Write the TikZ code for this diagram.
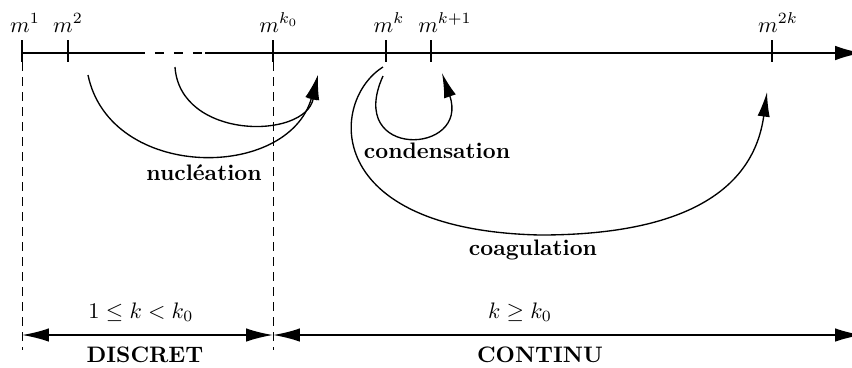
\documentclass[tikz,border=0pt]{standalone}
\usetikzlibrary{arrows.meta}
\begin{document}
\begin{tikzpicture}[x=0.4464pt,y=-0.4464pt,
  axis/.style={line width=0.8pt},
  tickmark/.style={line width=0.7pt},
  guide/.style={line width=0.4pt, dash pattern=on 4pt off 2.7pt},
  gapline/.style={line width=0.8pt, dash pattern=on 4pt off 4.46pt, dash phase=4pt},
  flow/.style={line width=0.6pt, -{Latex[length=11pt,width=5.5pt]}},
  span/.style={line width=0.8pt, {Latex[length=12pt,width=6pt]}-{Latex[length=12pt,width=6pt]}},
  lbl/.style={font=\bfseries, anchor=base, inner sep=0pt},
  mlbl/.style={anchor=base, inner sep=0pt}]
\useasboundingbox (0,0) rectangle (852,367);
\clip (0,0) rectangle (852,367);

% axis points
\coordinate (m1) at (22,53);
\coordinate (m2) at (68,53);
\coordinate (mk0) at (273,53);
\coordinate (mk) at (386,53);
\coordinate (mk1) at (431,53);
\coordinate (m2k) at (772,53);
\coordinate (d1) at (145,53);
\coordinate (d2) at (205,53);
\coordinate (axend) at (862,53);

% axis
\draw[axis] (m1) -- (d1);
\draw[gapline] (d1) -- (d2);
\draw[axis,-{Latex[length=12pt,width=6.5pt]}] (d2) -- (axend);

% ticks
\foreach \p in {m1,m2,mk0,mk,mk1,m2k}
  \draw[tickmark] (\p) ++(0,-13) -- ++(0,22);

% tick labels
\node[mlbl] (l1) at (25,32) {$m^1$};
\node[mlbl] (l2) at (68,32) {$m^2$};
\node[mlbl] (lk0) at (279,32) {$m^{k_0}$};
\node[mlbl] (lk) at (389,32) {$m^k$};
\node[mlbl] (lk1) at (445,32) {$m^{k+1}$};
\node[mlbl] (l2k) at (778,32) {$m^{2k}$};

% vertical guides
\coordinate (g1top) at (22,62);
\coordinate (g1bot) at (22,350);
\coordinate (g2top) at (273,62);
\coordinate (g2bot) at (273,350);
\draw[guide] (g1top) -- (g1bot);
\draw[guide] (g2top) -- (g2bot);

% nucleation
\coordinate (n1) at (88,75);
\coordinate (n2) at (175,67);
\coordinate (ntip) at (318,75);
\draw[flow] (n1) .. controls (110,181) and (288,181) .. (ntip);
\draw[flow] (n2) .. controls (180,140) and (305,140) .. (ntip);
\node[lbl] (nuc) at (204,180) {nucl\'eation};

% condensation
\coordinate (c1) at (383,76);
\coordinate (ctip) at (442,73);
\draw[flow] (c1) .. controls (345,160) and (470,155) .. (ctip);
\node[lbl] (cond) at (437,158) {condensation};

% coagulation
\coordinate (k1) at (383,67);
\coordinate (kbot) at (540,235);
\coordinate (ktip) at (767,92);
\draw[flow] (k1) .. controls (330,100) and (320,230) .. (kbot)
  .. controls (700,235) and (755,180) .. (ktip);
\node[lbl] (coag) at (533,255) {coagulation};

% bottom spans
\coordinate (s1) at (22,335);
\coordinate (s2) at (273,335);
\coordinate (s3) at (862,335);
\draw[span] (s1) -- (s2);
\draw[span] (s2) -- (s3);
\node[mlbl] (r1) at (141,318) {$1\leq k<k_0$};
\node[mlbl] (r2) at (520,318) {$k\geq k_0$};
\node[lbl] (disc) at (145,362) {DISCRET};
\node[lbl] (cont) at (540,362) {CONTINU};
\end{tikzpicture}
\end{document}
